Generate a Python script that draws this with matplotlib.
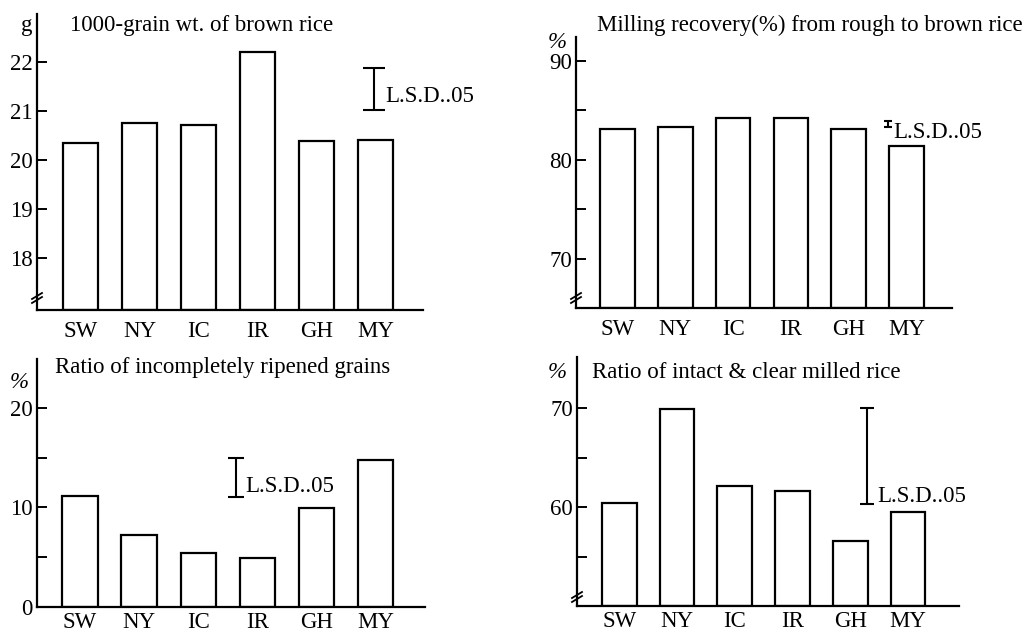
import numpy as np
import matplotlib
matplotlib.use("Agg")
import matplotlib.pyplot as plt
from matplotlib.lines import Line2D

plt.rcParams['font.family'] = ['Liberation Serif', 'DejaVu Serif']

# variedades
variedades = ["SW", "NY", "IC", "IR", "GH", "MY"]

# valores
peso_1000 = [20.35, 20.75, 20.71, 22.2, 20.39, 20.41]
rendimento = [83.1, 83.35, 84.2, 84.2, 83.1, 81.4]
imaturos = [11.15, 7.2, 5.45, 4.95, 9.9, 14.8]
intactos = [60.45, 69.85, 62.1, 61.6, 56.6, 59.5]

# L.S.D. 0.05 (inicio, fim)
lsd_peso = [21.02, 21.88]
lsd_rendimento = [83.3, 83.9]
lsd_imaturos = [11.0, 15.0]
lsd_intactos = [60.3, 70.0]

# ticks
ticks_peso = [18, 19, 20, 21, 22]
ticks_rend = [70, 80, 90]
minor_rend = [75, 85]
ticks_imat = [0, 10, 20]
minor_imat = [5, 15]
ticks_int = [60, 70]
minor_int = [55, 65]

W, H = 1036, 637
FS = 16.5
fig = plt.figure(figsize=(W / 100, H / 100), dpi=100)


def eixo(esq, dir, topo, base):
    # posicao em pixels -> fracao da figura
    return fig.add_axes([esq / W, 1 - base / H, (dir - esq) / W, (base - topo) / H])


def texto(x, y, s, **kw):
    fig.text(x / W, 1 - y / H, s, fontsize=FS, va='center', **kw)


def quebra(x, y):
    # marca de eixo quebrado
    for d in (0, 4):
        fig.add_artist(Line2D([(x - 5) / W, (x + 5) / W],
                              [1 - (y + 3 - d) / H, 1 - (y - 3 - d) / H],
                              color='black', lw=1.3))


def painel(ax, valores, ylim, xlim, major, minor, lsd, x_lsd, cap, xpad=8):
    x = np.arange(len(variedades))
    y0 = ylim[0]
    ax.bar(x, np.array(valores) - y0, bottom=y0, width=0.6,
           color='white', edgecolor='black', linewidth=1.6)
    ax.set_xlim(xlim)
    ax.set_ylim(ylim)
    ax.set_xticks(x)
    ax.set_xticklabels(variedades)
    ax.set_yticks(major)
    if minor:
        ax.set_yticks(minor, minor=True)
    ax.tick_params(axis='y', which='both', direction='in', length=7,
                   width=1.4, pad=3, labelsize=FS)
    ax.tick_params(axis='x', length=0, pad=xpad, labelsize=FS)
    for s in ['top', 'right']:
        ax.spines[s].set_visible(False)
    for s in ['left', 'bottom']:
        ax.spines[s].set_linewidth(1.6)
    meio = (lsd[0] + lsd[1]) / 2
    ax.errorbar([x_lsd], [meio], yerr=[[meio - lsd[0]], [lsd[1] - meio]],
                fmt='none', ecolor='black', elinewidth=1.5, capsize=cap,
                capthick=1.5)


# 1000-grain wt.
ax1 = eixo(37, 423, 14, 310)
painel(ax1, peso_1000, (16.94, 22.97), (-0.74, 5.8), ticks_peso, None,
       lsd_peso, 4.97, 8)
texto(70, 25, "1000-grain wt. of brown rice")
texto(27, 26, "g", ha='center')
texto(385, 97, "L.S.D..05")
quebra(37, 300)

# milling recovery
ax2 = eixo(576, 952, 37, 308)
painel(ax2, rendimento, (65.05, 92.4), (-0.72, 5.79), ticks_rend, minor_rend,
       lsd_rendimento, 4.68, 3)
texto(597, 25, "Milling recovery(%) from rough to brown rice")
texto(557, 43, "%", ha='center', style='italic')
texto(893, 132, "L.S.D..05")
quebra(576, 300)

# incompletely ripened
ax3 = eixo(37, 425, 359, 607)
painel(ax3, imaturos, (0, 24.9), (-0.73, 5.84), ticks_imat, minor_imat,
       lsd_imaturos, 2.64, 6, xpad=3.5)
texto(55, 368, "Ratio of incompletely ripened grains")
texto(19, 383, "%", ha='center', style='italic')
texto(245, 487, "L.S.D..05")

# intact & clear
ax4 = eixo(577, 959, 357, 606)
painel(ax4, intactos, (50.1, 75.1), (-0.73, 5.88), ticks_int, minor_int,
       lsd_intactos, 4.29, 5, xpad=3.5)
texto(592, 373, "Ratio of intact & clear milled rice")
texto(557, 372, "%", ha='center', style='italic')
texto(877, 497, "L.S.D..05")
quebra(577, 599)

fig.savefig("out.png", dpi=100)
